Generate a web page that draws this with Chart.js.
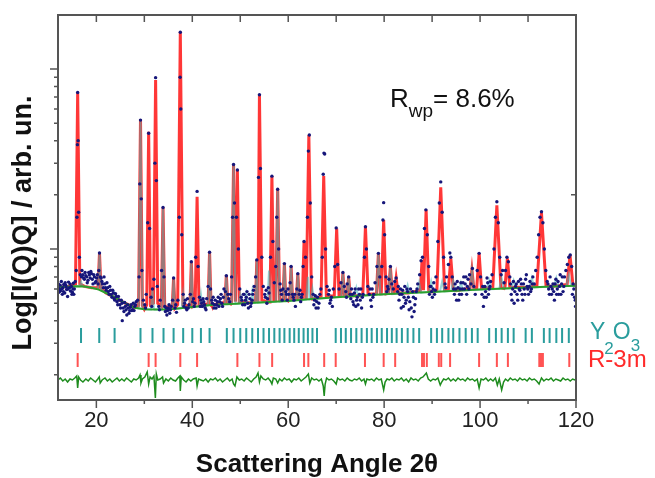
<!DOCTYPE html>
<html>
<head>
<meta charset="utf-8">
<script src="https://cdn.jsdelivr.net/npm/chart.js@4.4.1/dist/chart.umd.min.js"></script>
<style>
  html, body { margin: 0; padding: 0; background: #fff; }
  #wrap { width: 655px; height: 478px; position: relative; }
</style>
</head>
<body>
<div id="wrap"><canvas id="xrdChart"></canvas></div>
<script>
// Axis ranges (2theta in degrees, intensity on log scale)
const xMin = 12, xMax = 120;
const yMin = 145, yMax = 19950;
const xTickValues = [20, 30, 40, 50, 60, 70, 80, 90, 100, 110, 120];
const yTickValues = [200, 300, 400, 500, 600, 700, 800, 900, 1000,
  2000, 3000, 4000, 5000, 6000, 7000, 8000, 9000, 10000];
const yMajorTicks = [1000, 10000];

// Background (green line)
const background = [
  [12, 615], [14, 618], [16, 622], [17.5, 620], [19, 610], [20.5, 595], [22, 570],
  [24, 535], [26, 500], [28, 472], [30, 463], [32, 461], [34, 462], [36, 465],
  [40, 476], [44, 489], [48, 495], [52, 502], [56, 508], [60, 515], [65, 527],
  [70, 540], [75, 550], [80, 560], [85, 569], [90, 578], [95, 587], [100, 595],
  [105, 604], [110, 612], [115, 619], [120, 626]
];

// Calculated total pattern peaks: [position, top, base, half width]
const calcPeaks = [
  [16.1, 7380, 640, 0.45], [20.65, 950, 610, 0.3], [29.2, 5270, 485, 0.4],
  [30.9, 4480, 490, 0.4], [32.35, 8690, 500, 0.45], [33.9, 1700, 480, 0.35],
  [36.1, 690, 470, 0.3], [37.5, 16100, 490, 0.55], [39.8, 850, 480, 0.3],
  [41.0, 1950, 490, 0.4], [43.6, 966, 495, 0.3], [47.1, 717, 505, 0.3],
  [48.6, 2950, 510, 0.4], [49.4, 2750, 510, 0.4], [53.45, 869, 520, 0.25],
  [54.0, 7230, 520, 0.5], [56.6, 2540, 525, 0.4], [57.8, 2150, 525, 0.4],
  [59.2, 833, 525, 0.3], [60.6, 804, 530, 0.3], [62.0, 736, 530, 0.3],
  [63.3, 1100, 535, 0.35], [64.3, 4300, 535, 0.55], [67.4, 2540, 545, 0.55],
  [70.1, 1300, 550, 0.5], [71.4, 736, 550, 0.35], [72.6, 700, 550, 0.35],
  [76.1, 1330, 560, 0.55], [78.8, 946, 565, 0.4], [79.9, 1450, 565, 0.5],
  [81.3, 797, 570, 0.4], [82.5, 690, 570, 0.4], [87.9, 869, 590, 0.35],
  [88.75, 1650, 590, 0.55], [91.8, 2200, 595, 0.8], [93.9, 888, 600, 0.5],
  [98.3, 764, 605, 0.4], [99.8, 946, 605, 0.5], [103.5, 1750, 610, 0.85],
  [105.7, 888, 615, 0.5], [112.8, 1590, 625, 0.95], [118.75, 926, 635, 0.6]
];

// Y2O3 contribution peaks: [position, top, base, half width]
const y2o3Peaks = [
  [16.8, 660, 622, 0.3], [20.65, 950, 600, 0.3], [23.8, 570, 540, 0.3],
  [29.2, 5270, 468, 0.4], [31.7, 590, 462, 0.3], [33.9, 1700, 462, 0.35],
  [36.1, 690, 465, 0.3], [38.1, 560, 470, 0.3], [39.8, 850, 474, 0.3],
  [41.8, 560, 480, 0.3], [43.6, 966, 488, 0.3], [47.1, 717, 494, 0.3],
  [48.6, 2950, 496, 0.4], [50.0, 560, 498, 0.3], [51.25, 560, 500, 0.3],
  [52.5, 580, 502, 0.3], [53.45, 869, 504, 0.25], [56.0, 760, 508, 0.35],
  [57.8, 2150, 510, 0.4], [59.2, 833, 513, 0.3], [60.6, 804, 516, 0.3],
  [62.0, 736, 520, 0.3], [64.1, 700, 525, 0.35], [65.05, 600, 528, 0.3],
  [71.4, 736, 542, 0.35], [72.6, 700, 545, 0.35], [74.2, 610, 548, 0.4],
  [78.8, 946, 558, 0.4], [81.3, 797, 562, 0.4], [84.9, 630, 569, 0.4],
  [87.3, 650, 573, 0.4], [89.8, 660, 578, 0.45], [92.1, 660, 582, 0.45],
  [94.4, 670, 586, 0.45], [96.0, 650, 589, 0.45], [98.3, 764, 592, 0.45],
  [101.9, 670, 598, 0.5], [104.5, 690, 602, 0.5], [107.0, 670, 606, 0.5],
  [110.8, 690, 612, 0.5], [115.9, 690, 619, 0.5], [118.5, 720, 623, 0.5]
];

// Observed intensities (blue dots)
const obsA = [
  [12.1, 640], [12.2, 575], [12.3, 600], [12.5, 585], [12.7, 660], [12.9, 560], [13.0, 610],
  [13.2, 635], [13.4, 570], [13.5, 650], [13.6, 630], [13.8, 595], [14.0, 545], [14.2, 655],
  [14.4, 610], [14.6, 585], [14.8, 620], [14.9, 560], [15.0, 575], [15.2, 645], [15.4, 600],
  [15.6, 660], [15.8, 760], [15.95, 1500], [16.05, 3800], [16.1, 7400], [16.2, 4000],
  [16.3, 1600], [16.45, 900], [16.65, 720], [16.9, 700], [17.2, 720], [17.5, 680],
  [17.8, 710], [18.1, 650], [18.4, 740], [18.7, 690], [19.0, 730], [19.3, 640], [19.6, 700],
  [19.9, 660], [20.2, 720], [20.5, 760], [20.65, 950], [20.8, 700], [21.0, 690], [21.3, 640],
  [21.6, 700], [21.9, 610], [22.2, 650], [22.5, 580], [22.8, 620], [23.1, 560], [23.4, 590],
  [23.7, 530], [24.0, 565], [24.3, 510], [24.6, 545], [24.9, 490], [25.2, 520], [25.4, 400],
  [25.6, 470], [25.9, 505], [26.2, 460], [26.5, 490], [26.8, 440], [27.1, 475], [27.4, 455],
  [27.7, 500], [28.0, 480], [28.3, 510]
];
const obsB = [
  [28.6, 520], [28.9, 700], [29.05, 2300], [29.2, 5200], [29.35, 1900], [29.5, 760],
  [29.8, 520], [30.1, 490], [30.4, 560], [30.7, 1400], [30.9, 4400], [31.1, 1300],
  [31.4, 540], [31.7, 600], [32.0, 680], [32.2, 3000], [32.35, 8950], [32.5, 2400],
  [32.7, 620], [33.0, 480], [33.3, 520], [33.6, 760], [33.9, 1700], [34.1, 700], [34.4, 450],
  [34.7, 430], [35.0, 470], [35.3, 440], [35.6, 480], [35.9, 520], [36.1, 690], [36.4, 470],
  [36.7, 445], [37.0, 520], [37.3, 1500], [37.45, 9000], [37.5, 16000], [37.6, 6000],
  [37.8, 1200], [38.1, 560], [38.4, 500], [38.7, 470], [39.0, 530], [39.3, 490], [39.6, 560],
  [39.8, 850], [40.1, 510], [40.4, 480], [40.7, 900], [41.0, 2090], [41.2, 800], [41.5, 540],
  [41.8, 520], [42.1, 480], [42.4, 510], [42.7, 470], [43.0, 530], [43.3, 620], [43.6, 960],
  [43.8, 600], [44.2, 500], [44.5, 470], [44.8, 520], [45.1, 490], [45.4, 540], [45.7, 510],
  [46.0, 560], [46.3, 480], [46.6, 600], [46.9, 580], [47.1, 710], [47.4, 560], [47.8, 510],
  [48.2, 700], [48.4, 1500], [48.6, 2950], [48.8, 1800], [49.2, 1500], [49.4, 2750],
  [49.6, 1000], [49.9, 600]
];
const obsC = [
  [50.2, 540], [50.5, 490], [50.8, 560], [51.1, 520], [51.4, 580], [51.7, 470], [52.0, 530],
  [52.3, 500], [52.6, 560], [52.9, 620], [53.2, 700], [53.45, 870], [53.8, 2500], [54.0, 7200],
  [54.2, 2800], [54.5, 900], [54.8, 620], [55.1, 560], [55.4, 590], [55.7, 530], [56.0, 570],
  [56.3, 900], [56.6, 2540], [56.8, 1100], [57.1, 650], [57.4, 800], [57.6, 1500], [57.8, 2150],
  [58.0, 1000], [58.3, 640], [58.6, 560], [58.9, 600], [59.2, 830], [59.5, 580], [59.8, 520],
  [60.1, 560], [60.4, 650], [60.6, 800], [60.9, 560], [61.2, 520], [61.5, 480], [61.8, 600],
  [62.0, 730], [62.3, 560], [62.6, 510], [62.9, 560], [63.1, 800], [63.3, 1100], [63.6, 900],
  [64.0, 1500], [64.2, 3500], [64.4, 4300], [64.6, 1800], [64.9, 700], [65.2, 560], [65.5, 520],
  [65.8, 470], [66.1, 540], [66.4, 500], [66.8, 600], [67.1, 900], [67.3, 2600], [67.45, 3410],
  [67.6, 3370], [67.8, 1000], [68.1, 620]
];
const obsD = [
  [68.4, 560], [68.7, 500], [69.0, 540], [69.4, 600], [69.7, 800], [70.0, 1310], [70.3, 820],
  [70.6, 600], [71.0, 650], [71.4, 740], [71.7, 620], [72.0, 580], [72.3, 640], [72.6, 700],
  [72.9, 560], [73.2, 600], [73.5, 510], [73.8, 570], [74.1, 480], [74.4, 540], [74.7, 600],
  [75.0, 520], [75.3, 470], [75.6, 560], [75.9, 900], [76.1, 1330], [76.3, 1000], [76.6, 620],
  [76.9, 560], [77.2, 520], [77.5, 600], [77.8, 560], [78.1, 650], [78.5, 800], [78.8, 946],
  [79.1, 700], [79.5, 800], [79.75, 1450], [79.9, 1810], [80.1, 1200], [80.4, 700], [80.7, 620],
  [81.0, 680], [81.3, 800], [81.6, 640], [81.9, 600], [82.2, 660], [82.5, 690], [82.8, 580],
  [83.1, 520], [83.4, 600], [83.7, 560], [84.0, 480], [84.3, 620], [84.6, 520], [84.9, 580],
  [85.2, 460], [85.5, 600], [85.8, 420], [86.1, 540], [86.4, 490], [86.7, 580], [87.0, 640]
];
const obsE = [
  [87.4, 720], [87.7, 860], [88.0, 900], [88.4, 1300], [88.7, 1650], [89.0, 1200], [89.3, 800],
  [89.6, 620], [89.9, 580], [90.2, 600], [90.5, 560], [90.8, 700], [91.2, 1100], [91.5, 1800],
  [91.8, 2360], [92.1, 1600], [92.4, 900], [92.7, 640], [93.0, 700], [93.4, 820], [93.7, 950],
  [93.9, 900], [94.2, 700], [94.5, 600], [94.8, 640], [95.1, 520], [95.4, 610], [95.7, 560],
  [96.0, 650], [96.3, 600], [96.6, 700], [96.9, 640], [97.2, 560], [97.5, 680], [97.8, 720],
  [98.1, 640], [98.4, 780], [98.7, 620], [99.0, 560], [99.4, 760], [99.8, 946], [100.1, 700],
  [100.4, 560], [100.7, 480], [101.0, 620], [101.3, 540], [101.6, 650], [101.9, 600],
  [102.2, 660], [102.5, 720], [102.9, 1000], [103.2, 1500], [103.5, 1830], [103.8, 1400],
  [104.1, 900], [104.4, 720], [104.7, 760], [105.0, 650], [105.3, 760], [105.6, 900],
  [105.9, 850], [106.2, 700], [106.5, 560], [106.8, 600], [107.1, 500], [107.4, 620],
  [107.7, 560], [108.0, 660], [108.3, 590], [108.6, 640], [108.9, 520], [109.2, 600],
  [109.5, 680], [109.8, 620], [110.1, 560], [110.4, 660], [110.7, 600], [111.0, 700],
  [111.3, 640], [111.6, 760], [111.9, 900], [112.2, 1200], [112.5, 1500], [112.8, 1610],
  [113.1, 1400], [113.4, 1000], [113.7, 760], [114.0, 660], [114.3, 600], [114.6, 700],
  [114.9, 560], [115.2, 640], [115.5, 520], [115.8, 680], [116.1, 600], [116.4, 560],
  [116.7, 720], [117.0, 640], [117.3, 580], [117.6, 700], [117.9, 760], [118.2, 820],
  [118.5, 900], [118.8, 926], [119.1, 800], [119.4, 640], [119.7, 540], [119.9, 480]
];
// extra scatter in the dense parts of the noise cloud
const obsF = [
  [12.05, 610], [12.45, 630], [12.85, 600], [13.15, 580], [13.7, 615], [14.1, 600], [14.5, 640],
  [15.1, 600], [15.3, 560], [17.0, 760], [17.35, 690], [17.65, 740], [18.0, 700], [18.25, 670],
  [18.55, 720], [18.85, 750], [19.15, 680], [19.45, 720], [19.75, 650], [20.05, 690],
  [20.35, 640], [21.15, 660], [21.45, 610], [21.75, 640], [22.05, 590], [22.35, 610],
  [22.65, 560], [22.95, 590], [23.25, 540], [23.55, 570], [23.85, 520], [24.15, 545],
  [24.45, 490], [24.75, 520], [25.05, 470], [25.35, 500], [25.75, 450], [26.05, 480],
  [26.35, 430], [26.65, 470], [26.95, 455], [27.25, 490], [27.55, 460], [27.85, 455],
  [28.15, 490], [30.25, 470], [31.55, 480], [33.15, 460], [34.25, 480], [34.55, 470],
  [34.85, 455], [35.15, 490], [35.45, 460], [36.55, 490], [38.25, 480], [38.55, 520],
  [38.85, 460], [39.15, 470], [40.25, 530], [40.55, 500], [41.65, 480], [41.95, 500],
  [42.25, 530], [42.55, 490], [42.85, 460], [44.05, 520], [44.35, 540], [44.65, 490],
  [44.95, 470], [45.25, 510], [45.55, 480], [45.85, 530], [46.15, 500], [46.45, 540],
  [47.6, 530], [47.95, 560], [50.35, 520], [50.65, 560], [50.95, 490], [51.25, 540],
  [51.55, 500], [51.85, 560], [52.15, 480], [52.45, 520], [52.75, 590], [55.25, 540],
  [55.55, 500], [55.85, 610], [58.45, 590], [58.75, 520], [59.65, 560], [59.95, 600],
  [61.05, 540], [61.35, 560], [62.45, 590], [62.75, 540], [65.35, 490], [65.65, 550],
  [65.95, 510], [66.25, 470], [66.6, 560], [68.55, 590], [68.85, 520], [69.2, 480],
  [72.15, 540], [73.05, 530], [73.35, 560], [73.65, 490], [73.95, 600], [74.25, 520],
  [74.55, 490], [74.85, 560], [75.15, 600], [75.45, 540], [77.05, 600], [77.35, 480],
  [77.65, 540], [80.55, 580], [80.85, 600], [82.95, 620], [83.25, 560], [83.55, 470],
  [83.85, 590], [84.15, 540], [84.45, 500], [84.75, 600], [85.05, 540], [85.35, 510],
  [85.65, 470], [85.95, 580], [86.25, 450], [86.55, 530], [86.85, 600], [89.45, 560],
  [89.75, 620], [90.05, 540], [90.35, 650], [90.65, 590], [92.85, 610], [94.65, 560],
  [94.95, 600], [95.25, 660], [95.55, 520], [95.85, 600], [96.15, 560], [96.45, 650],
  [96.75, 600], [97.05, 700], [97.35, 620], [97.65, 600], [100.55, 620], [100.85, 540],
  [101.15, 580], [101.45, 690], [101.75, 560], [102.05, 620], [106.35, 640], [106.65, 520],
  [106.95, 660], [107.25, 580], [107.55, 640], [107.85, 520], [108.15, 600], [108.45, 680],
  [108.75, 560], [109.05, 640], [109.35, 560], [109.65, 720], [109.95, 600], [110.25, 620],
  [110.55, 580], [110.85, 640], [114.15, 640], [114.45, 560], [114.75, 620], [115.05, 600],
  [115.35, 580], [115.65, 640], [115.95, 560], [116.25, 660], [116.55, 620], [116.85, 560],
  [117.15, 700], [117.45, 620], [119.25, 560], [119.55, 600], [119.85, 520]
];

// Reflection positions (tick marks)
const y2o3Ticks = [16.8, 20.6, 23.8, 29.2, 31.7, 34.0, 36.1, 38.1, 40.0, 41.8, 43.6, 47.2,
  48.6, 50.0, 51.25, 52.5, 53.7, 54.85, 56.0, 57.1, 58.2, 59.2, 60.3, 61.25, 62.2, 63.2,
  64.1, 65.05, 66.0, 69.9, 71.0, 72.0, 73.1, 74.2, 75.3, 76.4, 77.4, 78.5, 79.5, 80.6, 81.6,
  82.6, 83.7, 84.9, 86.1, 87.3, 89.8, 91.0, 92.1, 93.4, 94.4, 95.7, 97.0, 98.3, 99.5, 101.9,
  103.3, 104.5, 105.8, 107.0, 109.5, 110.8, 113.3, 114.5, 115.9, 117.1, 118.5];
const r3mTicks = [16.1, 30.9, 32.35, 37.5, 41.0, 49.4, 54.0, 56.65, 63.3, 64.2, 67.5, 69.9,
  76.0, 79.9, 82.3, 87.9, 88.3, 88.9, 91.4, 91.9, 93.75, 99.8, 103.5, 105.8, 112.35, 112.7,
  113.1, 118.6];

// Difference curve (obs - calc), on the lower auxiliary axis
const diff = [
  [12, 0], [12.5, 2], [13, -1], [13.5, 1], [14, -2], [14.5, 1], [15, 0], [15.5, 2], [15.9, 4],
  [16.1, -8], [16.3, 3], [16.7, 0], [17.2, -2], [17.8, 1], [18.3, -1], [18.8, 2], [19.3, 0],
  [19.8, -2], [20.3, 1], [20.6, 3], [20.8, -3], [21.2, 0], [21.8, 2], [22.3, -1], [22.8, 1],
  [23.3, -2], [23.8, 0], [24.3, 2], [24.8, -1], [25.3, 1], [25.8, -1], [26.3, 2], [26.8, 0],
  [27.3, -2], [27.8, 1], [28.3, 0], [28.8, 2], [29.1, 5], [29.3, -3], [29.6, 1], [30.1, 3],
  [30.6, 8], [30.9, -4], [31.2, 3], [31.6, 1], [32.0, 4], [32.3, -18], [32.5, 6], [32.8, 0],
  [33.3, 1], [33.8, 3], [34.0, -3], [34.5, 1], [35.0, -1], [35.5, 2], [36.0, 0], [36.5, -1],
  [37.0, 2], [37.4, 4], [37.5, -11], [37.7, 3], [38.2, 0], [38.7, -2], [39.2, 1], [39.7, -1],
  [40.2, 1], [40.8, 2], [41.0, -6], [41.3, 1], [41.8, 0], [42.3, -1], [42.8, 1], [43.3, -2],
  [43.8, 1], [44.3, 0], [44.8, 2], [45.3, -1], [45.8, 1], [46.3, -2], [46.8, 0], [47.3, 2],
  [47.8, -1], [48.3, 1], [48.6, -4], [48.9, -6], [49.3, 3], [49.8, 0], [50.3, 1], [50.8, -1],
  [51.3, 2], [51.8, 0], [52.3, -2], [52.8, 1], [53.3, 3], [53.7, 7], [54.0, -2], [54.3, 4],
  [54.8, 1], [55.3, 0], [55.8, 2], [56.3, -1], [56.6, -4], [56.9, 2], [57.4, 1], [57.8, -3],
  [58.2, 1], [58.7, -1], [59.2, 2], [59.7, 0], [60.2, 1], [60.7, -2], [61.2, 1], [61.7, 0],
  [62.2, 2], [62.7, -1], [63.2, 1], [63.7, 3], [64.2, 6], [64.5, -3], [64.9, 2], [65.4, 0],
  [65.9, 1], [66.4, -1], [66.9, 1], [67.3, -6], [67.5, -16], [67.7, -4], [68.0, 2], [68.5, 0],
  [69.0, 1], [69.5, -1], [70.0, -4], [70.3, 2], [70.8, 0], [71.3, 1], [71.8, -1], [72.3, 2],
  [72.8, 0], [73.3, -1], [73.8, 1], [74.3, 0], [74.8, 2], [75.3, -1], [75.8, 1], [76.1, -4],
  [76.4, 1], [76.9, 0], [77.4, 1], [77.9, -1], [78.4, 2], [78.9, 0], [79.4, 1], [79.9, -10],
  [80.2, -2], [80.6, 1], [81.1, 0], [81.6, 2], [82.1, -1], [82.6, 1], [83.1, 0], [83.6, 2],
  [84.1, -1], [84.6, 1], [85.1, -2], [85.6, 2], [86.1, 0], [86.6, 1], [87.1, -1], [87.6, 2],
  [88.1, 3], [88.8, 7], [89.2, 1], [89.7, -1], [90.2, 1], [90.7, 0], [91.2, 2], [91.7, -5],
  [92.0, -2], [92.4, 1], [92.9, 0], [93.4, 2], [93.9, -1], [94.4, 1], [94.9, -1], [95.4, 2],
  [95.9, 0], [96.4, 1], [96.9, -1], [97.4, 2], [97.9, 0], [98.4, 1], [98.9, -1], [99.4, 1],
  [99.8, -8], [100.2, 1], [100.7, 0], [101.2, 2], [101.7, -1], [102.2, 1], [102.7, -1],
  [103.2, 2], [103.6, -5], [104.0, 1], [104.5, -10], [104.9, -2], [105.3, 1], [105.8, -1],
  [106.3, 2], [106.8, 0], [107.3, 1], [107.8, -1], [108.3, 2], [108.8, 0], [109.3, 1],
  [109.8, -1], [110.3, 2], [110.8, 0], [111.3, 1], [111.8, -1], [112.3, -4], [112.8, 2],
  [113.3, -1], [113.8, 1], [114.3, 0], [114.8, 2], [115.3, -1], [115.8, 1], [116.3, 0],
  [116.8, -1], [117.3, 2], [117.8, 0], [118.3, 1], [118.8, -1], [119.3, 1], [119.8, 0]
];

const toPts = arr => arr.map(([x, y]) => ({ x: x, y: y }));

// Calculated line: background points outside the peaks + a spike per peak
function calcLine(peaks) {
  const pts = background
    .filter(([x]) => !peaks.some(p => Math.abs(x - p[0]) <= p[3]))
    .map(([x, y]) => ({ x: x, y: y }));
  peaks.forEach(([c, top, base, hw]) => {
    pts.push({ x: c - hw, y: base }, { x: c, y: top }, { x: c + hw, y: base });
  });
  return pts.sort((a, b) => a.x - b.x);
}

// vertical tick marks, broken apart with null points
function tickRow(positions, lo, hi) {
  const pts = [];
  positions.forEach(x => { pts.push({ x: x, y: lo }, { x: x, y: hi }, { x: x, y: null }); });
  return pts;
}

const FONT = '"Liberation Sans", Arial, sans-serif';

// frame, tick marks and free texts
const decor = {
  id: 'decor',
  afterDraw(chart) {
    const { ctx, chartArea: a, scales } = chart;
    const sx = scales.x, sy = scales.y;
    ctx.save();
    ctx.strokeStyle = '#555';
    ctx.lineWidth = 2;
    ctx.strokeRect(a.left, a.top, a.right - a.left, a.bottom - a.top);

    ctx.lineWidth = 1.5;
    ctx.beginPath();
    xTickValues.forEach(v => {
      const px = sx.getPixelForValue(v);
      const len = v % 20 === 0 ? 8 : 4;
      ctx.moveTo(px, a.bottom); ctx.lineTo(px, a.bottom + len);
      if (v < xMax) { ctx.moveTo(px, a.top); ctx.lineTo(px, a.top + 7); }
    });
    yTickValues.forEach(v => {
      const py = sy.getPixelForValue(v);
      const len = yMajorTicks.includes(v) ? 8 : 4;
      ctx.moveTo(a.left - len, py); ctx.lineTo(a.left, py);
    });
    const pr = sy.getPixelForValue(2000);
    ctx.moveTo(a.right - 5, pr); ctx.lineTo(a.right, pr);
    ctx.stroke();

    // y axis title
    ctx.fillStyle = '#111';
    ctx.save();
    ctx.translate(24, 223);
    ctx.rotate(-Math.PI / 2);
    ctx.textAlign = 'center';
    ctx.textBaseline = 'middle';
    ctx.font = 'bold 27px ' + FONT;
    ctx.fillText('Log[I(Q)Q] / arb. un.', 0, 0);
    ctx.restore();

    // R_wp label
    ctx.textBaseline = 'alphabetic';
    ctx.textAlign = 'left';
    let x = 390;
    ctx.font = '26px ' + FONT;
    ctx.fillText('R', x, 107);
    x += ctx.measureText('R').width;
    ctx.font = '19px ' + FONT;
    ctx.fillText('wp', x, 117);
    x += ctx.measureText('wp').width;
    ctx.font = '26px ' + FONT;
    ctx.fillText('= 8.6%', x, 107);

    // phase labels
    ctx.fillStyle = '#2a9d9d';
    x = 590;
    ctx.font = '23px ' + FONT;
    ctx.fillText('Y', x, 339);
    x += ctx.measureText('Y').width - 1;
    ctx.font = '17px ' + FONT;
    ctx.fillText('2', x, 354);
    x += ctx.measureText('2').width - 1;
    ctx.font = '23px ' + FONT;
    ctx.fillText('O', x, 339);
    x += ctx.measureText('O').width;
    ctx.font = '17px ' + FONT;
    ctx.fillText('3', x, 351);

    ctx.fillStyle = '#ff2a2a';
    ctx.font = '24px ' + FONT;
    ctx.fillText('R-3m', 588, 367);
    ctx.restore();
  }
};

const config = {
  type: 'line',
  data: {
    datasets: [
      {
        label: 'Observed', data: toPts([].concat(obsA, obsB, obsC, obsD, obsE, obsF)),
        showLine: false, pointRadius: 1.7, pointBorderWidth: 0,
        pointBackgroundColor: '#16167a', yAxisID: 'y', order: 1
      },
      {
        label: 'Background', data: toPts(background), borderColor: '#2ca02c',
        borderWidth: 2, pointRadius: 0, yAxisID: 'y', order: 2
      },
      {
        label: 'Y2O3', data: calcLine(y2o3Peaks), borderColor: 'rgba(70,180,180,0.55)',
        borderWidth: 2, pointRadius: 0, yAxisID: 'y', order: 3
      },
      {
        label: 'Calculated', data: calcLine(calcPeaks), borderColor: 'rgba(255,20,20,0.85)',
        borderWidth: 3, pointRadius: 0, yAxisID: 'y', order: 4
      },
      {
        label: 'Y2O3 reflections', data: tickRow(y2o3Ticks, 37, 52), borderColor: '#2a9d9d',
        borderWidth: 2, pointRadius: 0, spanGaps: false, yAxisID: 'yd', order: 5
      },
      {
        label: 'R-3m reflections', data: tickRow(r3mTicks, 13, 27), borderColor: 'rgba(255,40,40,0.8)',
        borderWidth: 2, pointRadius: 0, spanGaps: false, yAxisID: 'yd', order: 5
      },
      {
        label: 'Difference', data: toPts(diff), borderColor: '#1e8c1e',
        borderWidth: 1.5, pointRadius: 0, yAxisID: 'yd', order: 5
      }
    ]
  },
  options: {
    responsive: true,
    maintainAspectRatio: false,
    animation: false,
    layout: { padding: { left: 0, top: 15, right: 79, bottom: 0 } },
    plugins: { legend: { display: false }, tooltip: { enabled: false } },
    scales: {
      x: {
        type: 'linear', min: xMin, max: xMax,
        grid: { display: false, drawTicks: false },
        border: { display: false },
        ticks: {
          stepSize: 10, autoSkip: false, maxRotation: 0, padding: 8,
          color: '#222', font: { family: FONT, size: 22 },
          callback: v => (v % 20 === 0 ? String(v) : '')
        },
        title: {
          display: true, text: 'Scattering Angle 2θ', color: '#111',
          font: { family: FONT, size: 26, weight: 'bold', lineHeight: 1 },
          padding: { top: 0, bottom: 0 }
        },
        afterFit: s => { s.height = 78; }
      },
      y: {
        type: 'logarithmic', min: yMin, max: yMax,
        grid: { display: false, drawTicks: false },
        border: { display: false },
        ticks: { display: false },
        afterFit: s => { s.width = 58; }
      },
      yd: {
        type: 'linear', min: -20, max: 365, display: false
      }
    }
  },
  plugins: [decor]
};

var xrdChart = new Chart(document.getElementById('xrdChart'), config);
</script>
</body>
</html>
